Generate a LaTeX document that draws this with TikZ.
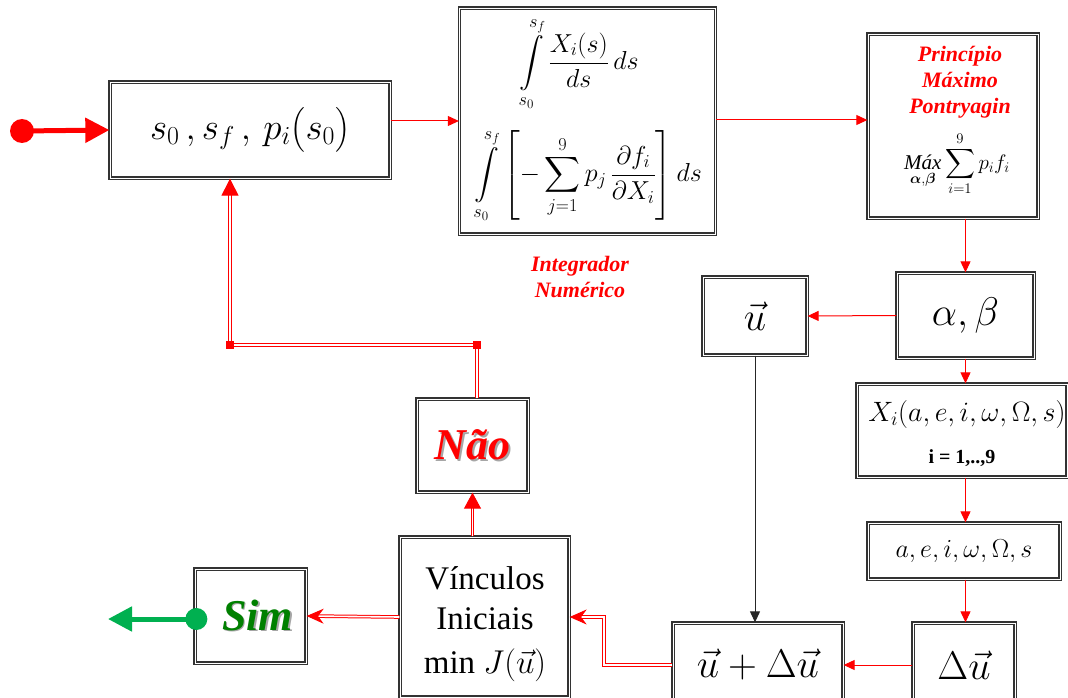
\RequirePackage{fix-cm}
\documentclass[tikz,border=0pt]{standalone}
\usepackage{amsmath}
\usepackage{fontspec}
\setmainfont{Liberation Serif}
\usetikzlibrary{arrows.meta,calc}

\definecolor{verdeseta}{RGB}{0,176,80}
\definecolor{verdesim}{RGB}{0,128,0}
% texto com sombra cinza
\newcommand{\comsombra}[2]{\makebox[0pt][l]{\hspace{1.8pt}\raisebox{-1.8pt}{\color{black!35}#2}}{\color{#1}#2}}

\tikzset{
  bloco/.style={draw=black!80, line width=1.3pt, double=white, double distance=0.8pt, inner sep=0pt, align=center},
  seta/.style={draw=red, line width=1pt, -{Triangle[length=11pt,width=10pt]}},
  setadupla/.style={draw=red, line width=1pt, double=white, double distance=1.6pt},
  rotulo/.style={red, inner sep=0pt, font=\fontsize{22}{26}\selectfont\bfseries\itshape, align=center},
  grande/.style={font=\fontsize{40}{44}\selectfont},
}

\begin{document}
\begin{tikzpicture}[x=1pt, y=-1pt]
    \useasboundingbox (0,0) rectangle (1068,698);

    % blocos
    \node[bloco, minimum width=280pt, minimum height=96pt, font=\fontsize{37}{40}\selectfont] (entrada) at (250,130) {$s_0\,,s_f\,,\,p_i\bigl(s_0\bigr)$};
    \node[bloco, minimum width=256pt, minimum height=226pt] (integ) at (587.5,121) {};
    \node[bloco, minimum width=170pt, minimum height=184pt] (pontry) at (953,126) {};
    \node[bloco, grande, minimum width=137pt, minimum height=85pt] (ab) at (965.5,315.5) {$\alpha,\beta$};
    \node[bloco, grande, minimum width=104pt, minimum height=78pt] (uvec) at (755,316) {$\vec{u}$};
    \node[bloco, minimum width=210pt, minimum height=93pt] (xi) at (962,430.5) {};
    \node[bloco, minimum width=192pt, minimum height=56pt, font=\fontsize{26}{30}\selectfont] (aes) at (964,551) {$a,e,i,\omega,\Omega,s$};
    \node[bloco, grande, minimum width=102pt, minimum height=84pt] (du) at (964,665) {$\Delta\vec{u}$};
    \node[bloco, grande, minimum width=170pt, minimum height=84pt] (udu) at (758,665) {$\vec{u}+\Delta\vec{u}$};
    \node[bloco, minimum width=169pt, minimum height=160pt] (vinc) at (484.5,617) {};
    \node[bloco, minimum width=111pt, minimum height=93pt, font=\fontsize{44}{48}\selectfont\bfseries\itshape] (nao) at (472.5,445.5) {\comsombra{red}{Não}};
    \node[bloco, minimum width=111pt, minimum height=94pt, font=\fontsize{44}{48}\selectfont\bfseries\itshape] (sim) at (250.5,616) {\hspace{14pt}\comsombra{verdesim}{Sim}};

    % conteudo dos blocos
    \node[inner sep=0pt, font=\fontsize{26}{30}\selectfont] (integA) at (579,64) {$\displaystyle\int\limits_{s_0}^{s_f}\frac{X_i(s)}{ds}\,ds$};
    \node[inner sep=0pt, font=\fontsize{26}{30}\selectfont] (integB) at (588,176) {$\displaystyle\int\limits_{s_0}^{s_f}\left[-\sum_{j=1}^{9}p_j\,\frac{\partial f_i}{\partial X_i}\right]ds$};
    \node[rotulo] (pmp) at (960,82) {Princípio\\Máximo\\Pontryagin};
    \node[inner sep=0pt, font=\fontsize{21}{25}\selectfont] (pmax) at (957,164) {$\mathop{\textit{Máx}}\limits_{\boldsymbol{\alpha},\boldsymbol{\beta}}\displaystyle\sum_{i=1}^{9}p_if_i$};
    \node[font=\fontsize{28}{32}\selectfont] (xiA) at (967,414) {$X_i(a,e,i,\omega,\Omega,s)$};
    \node[font=\fontsize{20}{24}\selectfont\bfseries] (xiB) at (962,458) {i = 1,..,9};
    \node[font=\fontsize{33}{40}\selectfont, align=center] (vincA) at (485,598) {Vínculos\\Iniciais};
    \node[font=\fontsize{33}{40}\selectfont] (vincB) at (485,665) {min $J(\vec{u})$};
    \node[rotulo] (integcap) at (580,277) {Integrador\\Numérico};

    % entrada e saida
    \coordinate (inicio) at (22,131);
    \coordinate (saida) at (108,619);
    \fill[red] (inicio) circle (12);
    \draw[red, line width=5pt, -{Triangle[length=24pt,width=24pt]}] (inicio) -- (entrada.west);
    \fill[verdeseta] (sim.west) ++(2,3) coordinate (pontoSim) circle (11);
    \draw[verdeseta, line width=5pt, -{Triangle[length=24pt,width=24pt]}] (pontoSim) -- (saida);

    % setas simples
    \draw[seta] (entrada.east |- integ.west) -- (integ.west);
    \draw[seta] (integ.east |- 0,120) -- (pontry.west |- 0,120);
    \draw[seta] (ab.north |- pontry.south) -- (ab.north);
    \draw[seta] (ab.west) -- (uvec.east);
    \draw[seta] (ab.south) -- (ab.south |- xi.north);
    \draw[seta] (ab.south |- xi.south) -- (ab.south |- aes.north);
    \draw[seta] (ab.south |- aes.south) -- (ab.south |- du.north);
    \draw[seta] (du.west) -- (udu.east);
    \draw[line width=1pt, black!85, -{Triangle[length=11pt,width=10pt]}] (uvec.south) -- (uvec.south |- udu.north);

    % setas duplas
    \coordinate (dobra) at (604,0);
    \coordinate (cantoD) at (477,345);
    \coordinate (cantoE) at (230,345);
    \draw[setadupla, -{Stealth[length=17pt,width=15pt]}] (udu.west) -| (dobra |- vinc.east) -- (vinc.east);
    \draw[setadupla, -{Stealth[length=17pt,width=15pt]}] (vinc.west) -- (sim.east);
    \draw[setadupla, -{Triangle[length=16pt,width=17pt]}] (vinc.north -| nao.south) -- (nao.south);
    \draw[setadupla, -{Triangle[length=17pt,width=17pt]}] (nao.north -| cantoD) -- (cantoD) -- (cantoE) -- (cantoE |- entrada.south);
    \fill[red] (cantoD) +(-4,-4) rectangle +(4,4);
    \fill[red] (cantoE) +(-4,-4) rectangle +(4,4);
\end{tikzpicture}
\end{document}
